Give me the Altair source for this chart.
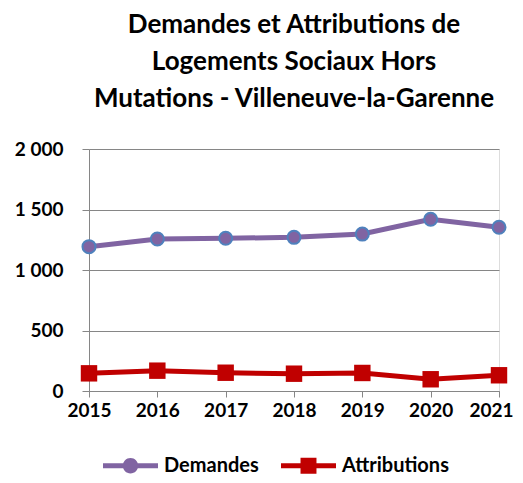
import altair as alt
import pandas as pd

years = [2015, 2016, 2017, 2018, 2019, 2020, 2021]
demandes = [1193, 1256, 1262, 1270, 1297, 1419, 1353]
attributions = [146, 168, 151, 143, 149, 97, 130]
series = ["Demandes", "Attributions"]
colors = ["#8064A2", "#C00000"]
title_lines = ["Demandes et Attributions de", "Logements Sociaux Hors", "Mutations - Villeneuve-la-Garenne"]
y_ticks = [0, 500, 1000, 1500, 2000]

df = pd.DataFrame({
    "year": years * 2,
    "value": demandes + attributions,
    "series": [series[0]] * len(years) + [series[1]] * len(years),
})

FONT = "Lato"
GRAY = "#868686"

x = alt.X("year:Q", scale=alt.Scale(domain=[years[0], years[-1]], nice=False, zero=False),
          axis=alt.Axis(values=years, format="d", title=None, grid=False, domainColor=GRAY,
                        tickColor=GRAY, tickSize=6, labelFont=FONT, labelFontSize=19,
                        labelFontWeight="bold", labelColor="black", labelPadding=4,
                        labelFlush=False, labelOverlap=False,
                        labelOffset={"condition": {"test": f"datum.value == {years[-1]}", "value": -8},
                                     "value": 0}))
y = alt.Y("value:Q", scale=alt.Scale(domain=[0, 2000], nice=False),
          axis=alt.Axis(values=y_ticks, labelExpr="replace(format(datum.value, ','), ',', ' ')",
                        title=None, grid=True, gridColor=GRAY, domainColor=GRAY, tickColor=GRAY,
                        tickSize=7, labelFont=FONT, labelFontSize=19, labelFontWeight="bold",
                        labelColor="black", labelPadding=19))
color_nolegend = alt.Color("series:N", scale=alt.Scale(domain=series, range=colors), legend=None)

base = alt.Chart(df)
lines = base.mark_line(strokeWidth=5).encode(x=x, y=y, color=color_nolegend)
circles = base.transform_filter(alt.datum.series == series[0]).mark_point(
    filled=True, size=170, stroke="#4F81BD", strokeWidth=2, opacity=1, fill=colors[0]
).encode(x=x, y=y)
squares = base.transform_filter(alt.datum.series == series[1]).mark_square(
    size=270, color=colors[1], opacity=1
).encode(x=x, y=y)

circle_path = ("M-1,-0.09 L1,-0.09 L1,0.09 L-1,0.09 Z "
               "M-0.28,0 A0.28,0.28 0 1,1 0.28,0 A0.28,0.28 0 1,1 -0.28,0 Z")
square_path = ("M-1,-0.09 L1,-0.09 L1,0.09 L-1,0.09 Z "
               "M-0.29,-0.29 L0.29,-0.29 L0.29,0.29 L-0.29,0.29 Z")

leg = alt.Legend(title=None, orient="none", legendX=14, legendY=289,
                 direction="horizontal", symbolSize=3025,
                 symbolStrokeWidth=0, labelFont=FONT, labelFontSize=20,
                 labelFontWeight="bold", labelColor="black",
                 labelOffset=6, columnPadding=22, symbolOpacity=1)

legend_layer = base.mark_point(filled=True, size=1, opacity=0).encode(
    x=x, y=y,
    color=alt.Color("series:N", scale=alt.Scale(domain=series, range=colors), legend=leg),
    shape=alt.Shape("series:N", scale=alt.Scale(domain=series, range=[circle_path, square_path]),
                    legend=leg),
)

chart = alt.layer(lines, circles, squares, legend_layer).resolve_scale(
    color="independent", shape="independent"
).resolve_legend(color="independent", shape="independent").properties(
    width=410, height=242,
    title=alt.TitleParams(text=title_lines, font=FONT, fontSize=26, fontWeight="bold",
                          anchor="middle", lineHeight=37, color="black", offset=28),
    autosize=alt.AutoSizeParams(type="none"),
    padding={"left": 81, "top": 141, "right": 16, "bottom": 84},
).configure_view(stroke=None).configure(background="white")

chart.save("out.html", embed_options={"renderer": "svg", "actions": False})
